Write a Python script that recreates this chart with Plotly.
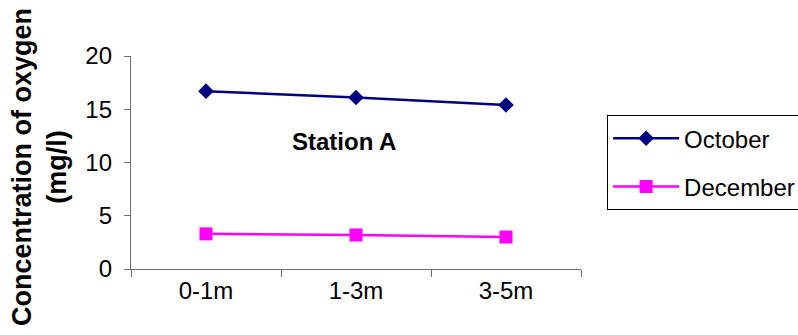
import plotly.graph_objects as go

depths = ["0-1m", "1-3m", "3-5m"]
october = [16.7, 16.1, 15.4]
december = [3.3, 3.2, 3.0]
y_ticks = [0, 5, 10, 15, 20]

FONT = "Liberation Sans, Arial, sans-serif"

fig = go.Figure()
fig.add_trace(go.Scatter(
    x=depths, y=october, name="October", mode="lines+markers",
    line=dict(color="#000080", width=2.5),
    marker=dict(symbol="diamond", size=12, color="#000080"),
    legendgroup="oct",
))
fig.add_trace(go.Scatter(
    x=depths, y=december, name="December", mode="lines+markers",
    line=dict(color="#FF00FF", width=2.5),
    marker=dict(symbol="square", size=13, color="#FF00FF"),
    legendgroup="dec",
))

fig.update_layout(
    width=798, height=335,
    margin=dict(l=131, r=217, t=56, b=66, autoexpand=False),
    paper_bgcolor="white", plot_bgcolor="white",
    font=dict(family=FONT, size=24, color="black"),
    showlegend=True,
    legend=dict(
        x=1.058, y=0.722, xanchor="left", yanchor="top",
        bordercolor="black", borderwidth=1, bgcolor="white",
        font=dict(size=24, family=FONT),
        tracegroupgap=14, traceorder="grouped",
        itemwidth=66,
    ),
    xaxis=dict(
        type="category", range=[-0.5, 2.5],
        showline=True, linecolor="#707070", linewidth=1.3,
        ticks="outside", tickson="boundaries", ticklen=7, tickcolor="#707070",
        showgrid=False, zeroline=False,
        tickfont=dict(size=24, family=FONT),
    ),
    yaxis=dict(
        range=[0, 20], tickvals=y_ticks,
        showline=True, linecolor="#707070", linewidth=1.3,
        ticks="outside", ticklen=6, tickcolor="#707070",
        ticklabelstandoff=7,
        showgrid=False, zeroline=False,
        tickfont=dict(size=24, family=FONT),
    ),
    annotations=[
        dict(text="<b>Station A</b>", xref="paper", yref="paper",
             x=0.474, y=0.597, xanchor="center", yanchor="middle",
             showarrow=False, font=dict(size=24, family=FONT)),
        dict(text="<b>Concentration of oxygen<br>(mg/l)</b>",
             xref="paper", yref="paper", x=-0.202, y=0.479,
             xanchor="center", yanchor="middle", textangle=-90,
             showarrow=False, font=dict(size=27, family=FONT)),
    ],
)

fig.write_html("out.html")
